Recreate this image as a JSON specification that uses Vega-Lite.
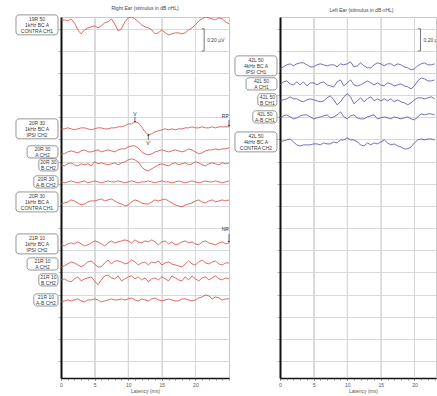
{
  "$schema": "https://vega.github.io/schema/vega-lite/v6.json",
  "background": "white",
  "padding": {"left": 15, "top": 5, "right": 0, "bottom": 0},
  "autosize": {"type": "pad"},
  "bounds": "flush",
  "spacing": 51,
  "config": {
    "font": "Liberation Sans",
    "view": {"stroke": "#c8c8c8", "strokeWidth": 1},
    "title": {"font": "Liberation Sans", "fontSize": 5, "fontWeight": "normal", "color": "#444", "offset": 4},
    "axis": {"labelFont": "Liberation Sans", "titleFont": "Liberation Sans", "labelFontSize": 5, "titleFontSize": 5, "titleFontWeight": "normal", "labelColor": "#555", "titleColor": "#555", "gridColor": "#d9d9d9", "gridWidth": 1, "tickCount": 1000},
    "axisX": {"domainColor": "#111", "domainWidth": 1.5, "tickColor": "#666", "tickSize": 2, "tickWidth": 0.7, "labelPadding": 2, "titlePadding": 1, "labelOverlap": false, "labelFlush": false, "format": "d"},
    "axisY": {"domainColor": "#111", "domainWidth": 2, "tickColor": "#999", "tickSize": 3, "tickWidth": 0.7, "labels": false, "grid": true}
  },
  "datasets": {
    "majorTicks": [{"t": 5}, {"t": 10}, {"t": 15}, {"t": 20}],
    "labels": [
      {"s": "R1", "ear": "R", "base": 3.035, "sub": "", "label": "19R 50\n1kHz BC A\nCONTRA CH1"},
      {"s": "R2", "ear": "R", "base": 2.096, "sub": "", "label": "20R 30\n1kHz BC A\nIPSI CH2"},
      {"s": "R3", "ear": "R", "base": 1.888, "sub": "A", "label": "20R 30\nA CH2"},
      {"s": "R4", "ear": "R", "base": 1.771, "sub": "B", "label": "20R 30\nB CH2"},
      {"s": "R5", "ear": "R", "base": 1.617, "sub": "A-B", "label": "20R 30\nA-B CH2"},
      {"s": "R6", "ear": "R", "base": 1.436, "sub": "", "label": "20R 30\n1kHz BC A\nCONTRA CH1"},
      {"s": "R7", "ear": "R", "base": 1.057, "sub": "", "label": "21R 10\n1kHz BC A\nIPSI CH2"},
      {"s": "R8", "ear": "R", "base": 0.876, "sub": "A", "label": "21R 10\nA CH2"},
      {"s": "R9", "ear": "R", "base": 0.732, "sub": "B", "label": "21R 10\nB CH2"},
      {"s": "R10", "ear": "R", "base": 0.551, "sub": "A-B", "label": "21R 10\nA-B CH2"},
      {"s": "L1", "ear": "L", "base": 2.665, "sub": "", "label": "42L 50\n4kHz BC A\nIPSI CH1"},
      {"s": "L2", "ear": "L", "base": 2.502, "sub": "A", "label": "42L 50\nA CH1"},
      {"s": "L3", "ear": "L", "base": 2.358, "sub": "B", "label": "42L 50\nB CH1"},
      {"s": "L4", "ear": "L", "base": 2.204, "sub": "A-B", "label": "42L 50\nA-B CH1"},
      {"s": "L5", "ear": "L", "base": 1.978, "sub": "", "label": "42L 50\n4kHz BC A\nCONTRA CH2"}
    ],
    "scalebars": [
      {"ear": "R", "t": 21.3, "lo": 2.8, "hi": 3.0, "label": "0.20 µV"},
      {"ear": "L", "t": 20.9, "lo": 2.8, "hi": 3.0, "label": "0.20 µV"}
    ],
    "flags": [
      {"ear": "R", "name": "V", "t": 11, "tip": 2.159, "tail": 2.204},
      {"ear": "R", "name": "V'", "t": 13, "tip": 2.042, "tail": 1.997},
      {"ear": "R", "name": "RP", "t": 25, "tip": 2.123, "tail": 2.177},
      {"ear": "R", "name": "NR", "t": 25, "tip": 1.075, "tail": 1.147}
    ],
    "traces": [
      {"s":"R1","t":0,"v":0.045},{"s":"R1","t":0.5,"v":0.045},{"s":"R1","t":1,"v":0.036},{"s":"R1","t":1.5,"v":0.054},{"s":"R1","t":2,"v":0.018},{"s":"R1","t":2.5,"v":-0.045},{"s":"R1","t":3,"v":-0.081},{"s":"R1","t":3.5,"v":-0.045},{"s":"R1","t":4,"v":-0.027},{"s":"R1","t":4.5,"v":-0.018},{"s":"R1","t":5,"v":-0.009},{"s":"R1","t":5.5,"v":-0.027},{"s":"R1","t":6,"v":-0.009},{"s":"R1","t":6.5,"v":0.018},{"s":"R1","t":7,"v":0.027},{"s":"R1","t":7.5,"v":0.054},{"s":"R1","t":8,"v":0.009},{"s":"R1","t":8.5,"v":-0.054},{"s":"R1","t":9,"v":-0.036},{"s":"R1","t":9.5,"v":0.027},{"s":"R1","t":10,"v":0.063},{"s":"R1","t":10.5,"v":0.072},{"s":"R1","t":11,"v":0.054},{"s":"R1","t":11.5,"v":0.027},{"s":"R1","t":12,"v":0},{"s":"R1","t":12.5,"v":-0.018},{"s":"R1","t":13,"v":-0.027},{"s":"R1","t":13.5,"v":-0.045},{"s":"R1","t":14,"v":-0.081},{"s":"R1","t":14.5,"v":-0.072},{"s":"R1","t":15,"v":-0.045},{"s":"R1","t":15.5,"v":-0.072},{"s":"R1","t":16,"v":-0.09},{"s":"R1","t":16.5,"v":-0.081},{"s":"R1","t":17,"v":-0.072},{"s":"R1","t":17.5,"v":-0.072},{"s":"R1","t":18,"v":-0.081},{"s":"R1","t":18.5,"v":-0.072},{"s":"R1","t":19,"v":-0.045},{"s":"R1","t":19.5,"v":-0.027},{"s":"R1","t":20,"v":0},{"s":"R1","t":20.5,"v":0.036},{"s":"R1","t":21,"v":0.054},{"s":"R1","t":21.5,"v":0.072},{"s":"R1","t":22,"v":0.063},{"s":"R1","t":22.5,"v":0.054},{"s":"R1","t":23,"v":0.045},{"s":"R1","t":23.5,"v":0.063},{"s":"R1","t":24,"v":0.054},{"s":"R1","t":24.5,"v":0.027},{"s":"R1","t":25,"v":0.009},
      {"s":"R2","t":0,"v":0},{"s":"R2","t":0.5,"v":0},{"s":"R2","t":1,"v":0.009},{"s":"R2","t":1.5,"v":0},{"s":"R2","t":2,"v":-0.009},{"s":"R2","t":2.5,"v":0},{"s":"R2","t":3,"v":0.009},{"s":"R2","t":3.5,"v":0.009},{"s":"R2","t":4,"v":0},{"s":"R2","t":4.5,"v":-0.009},{"s":"R2","t":5,"v":0},{"s":"R2","t":5.5,"v":0.009},{"s":"R2","t":6,"v":0.009},{"s":"R2","t":6.5,"v":0},{"s":"R2","t":7,"v":0},{"s":"R2","t":7.5,"v":0.009},{"s":"R2","t":8,"v":0.009},{"s":"R2","t":8.5,"v":0.018},{"s":"R2","t":9,"v":0.018},{"s":"R2","t":9.5,"v":0.027},{"s":"R2","t":10,"v":0.045},{"s":"R2","t":10.5,"v":0.045},{"s":"R2","t":11,"v":0.063},{"s":"R2","t":11.5,"v":0.054},{"s":"R2","t":12,"v":0.018},{"s":"R2","t":12.5,"v":-0.027},{"s":"R2","t":13,"v":-0.054},{"s":"R2","t":13.5,"v":-0.045},{"s":"R2","t":14,"v":-0.027},{"s":"R2","t":14.5,"v":-0.018},{"s":"R2","t":15,"v":-0.009},{"s":"R2","t":15.5,"v":0},{"s":"R2","t":16,"v":-0.009},{"s":"R2","t":16.5,"v":0},{"s":"R2","t":17,"v":-0.009},{"s":"R2","t":17.5,"v":0},{"s":"R2","t":18,"v":0},{"s":"R2","t":18.5,"v":0.009},{"s":"R2","t":19,"v":0.009},{"s":"R2","t":19.5,"v":0.018},{"s":"R2","t":20,"v":0.009},{"s":"R2","t":20.5,"v":0.009},{"s":"R2","t":21,"v":0.018},{"s":"R2","t":21.5,"v":0.009},{"s":"R2","t":22,"v":0.009},{"s":"R2","t":22.5,"v":0.018},{"s":"R2","t":23,"v":0.009},{"s":"R2","t":23.5,"v":0.018},{"s":"R2","t":24,"v":0.018},{"s":"R2","t":24.5,"v":0.018},{"s":"R2","t":25,"v":0.018},
      {"s":"R3","t":0,"v":-0.018},{"s":"R3","t":0.5,"v":-0.018},{"s":"R3","t":1,"v":0},{"s":"R3","t":1.5,"v":0.009},{"s":"R3","t":2,"v":0},{"s":"R3","t":2.5,"v":-0.009},{"s":"R3","t":3,"v":0.009},{"s":"R3","t":3.5,"v":0.018},{"s":"R3","t":4,"v":0},{"s":"R3","t":4.5,"v":0},{"s":"R3","t":5,"v":0.009},{"s":"R3","t":5.5,"v":0.018},{"s":"R3","t":6,"v":0},{"s":"R3","t":6.5,"v":0.009},{"s":"R3","t":7,"v":0.018},{"s":"R3","t":7.5,"v":0.009},{"s":"R3","t":8,"v":0},{"s":"R3","t":8.5,"v":0.018},{"s":"R3","t":9,"v":0.027},{"s":"R3","t":9.5,"v":0.027},{"s":"R3","t":10,"v":0.045},{"s":"R3","t":10.5,"v":0.054},{"s":"R3","t":11,"v":0.054},{"s":"R3","t":11.5,"v":0.036},{"s":"R3","t":12,"v":0},{"s":"R3","t":12.5,"v":-0.018},{"s":"R3","t":13,"v":-0.027},{"s":"R3","t":13.5,"v":-0.018},{"s":"R3","t":14,"v":0},{"s":"R3","t":14.5,"v":0.009},{"s":"R3","t":15,"v":0.018},{"s":"R3","t":15.5,"v":0.009},{"s":"R3","t":16,"v":0},{"s":"R3","t":16.5,"v":0.009},{"s":"R3","t":17,"v":0.018},{"s":"R3","t":17.5,"v":0.009},{"s":"R3","t":18,"v":0},{"s":"R3","t":18.5,"v":0.009},{"s":"R3","t":19,"v":0.027},{"s":"R3","t":19.5,"v":0.018},{"s":"R3","t":20,"v":0},{"s":"R3","t":20.5,"v":-0.018},{"s":"R3","t":21,"v":-0.009},{"s":"R3","t":21.5,"v":0.009},{"s":"R3","t":22,"v":0.018},{"s":"R3","t":22.5,"v":0.018},{"s":"R3","t":23,"v":0.027},{"s":"R3","t":23.5,"v":0.018},{"s":"R3","t":24,"v":0.027},{"s":"R3","t":24.5,"v":0.027},{"s":"R3","t":25,"v":0.036},
      {"s":"R4","t":0,"v":0},{"s":"R4","t":0.5,"v":-0.009},{"s":"R4","t":1,"v":0.009},{"s":"R4","t":1.5,"v":0.018},{"s":"R4","t":2,"v":0},{"s":"R4","t":2.5,"v":-0.009},{"s":"R4","t":3,"v":0.009},{"s":"R4","t":3.5,"v":0},{"s":"R4","t":4,"v":0.009},{"s":"R4","t":4.5,"v":-0.009},{"s":"R4","t":5,"v":0.027},{"s":"R4","t":5.5,"v":0.009},{"s":"R4","t":6,"v":0.018},{"s":"R4","t":6.5,"v":0.009},{"s":"R4","t":7,"v":0},{"s":"R4","t":7.5,"v":0.009},{"s":"R4","t":8,"v":0.018},{"s":"R4","t":8.5,"v":0},{"s":"R4","t":9,"v":0.018},{"s":"R4","t":9.5,"v":0.027},{"s":"R4","t":10,"v":0.045},{"s":"R4","t":10.5,"v":0.054},{"s":"R4","t":11,"v":0.045},{"s":"R4","t":11.5,"v":0.027},{"s":"R4","t":12,"v":-0.018},{"s":"R4","t":12.5,"v":-0.045},{"s":"R4","t":13,"v":-0.054},{"s":"R4","t":13.5,"v":-0.036},{"s":"R4","t":14,"v":-0.018},{"s":"R4","t":14.5,"v":0},{"s":"R4","t":15,"v":0.009},{"s":"R4","t":15.5,"v":0},{"s":"R4","t":16,"v":-0.009},{"s":"R4","t":16.5,"v":0.009},{"s":"R4","t":17,"v":0.018},{"s":"R4","t":17.5,"v":0},{"s":"R4","t":18,"v":0.009},{"s":"R4","t":18.5,"v":0.018},{"s":"R4","t":19,"v":0},{"s":"R4","t":19.5,"v":0.009},{"s":"R4","t":20,"v":0.027},{"s":"R4","t":20.5,"v":0.018},{"s":"R4","t":21,"v":0},{"s":"R4","t":21.5,"v":-0.009},{"s":"R4","t":22,"v":0.009},{"s":"R4","t":22.5,"v":0.018},{"s":"R4","t":23,"v":0.009},{"s":"R4","t":23.5,"v":0},{"s":"R4","t":24,"v":0.018},{"s":"R4","t":24.5,"v":0.009},{"s":"R4","t":25,"v":0.018},
      {"s":"R5","t":0,"v":0},{"s":"R5","t":0.5,"v":-0.009},{"s":"R5","t":1,"v":0},{"s":"R5","t":1.5,"v":0.009},{"s":"R5","t":2,"v":0},{"s":"R5","t":2.5,"v":-0.009},{"s":"R5","t":3,"v":0},{"s":"R5","t":3.5,"v":0.009},{"s":"R5","t":4,"v":-0.009},{"s":"R5","t":4.5,"v":0},{"s":"R5","t":5,"v":0.009},{"s":"R5","t":5.5,"v":0},{"s":"R5","t":6,"v":-0.009},{"s":"R5","t":6.5,"v":0},{"s":"R5","t":7,"v":0.009},{"s":"R5","t":7.5,"v":0},{"s":"R5","t":8,"v":0},{"s":"R5","t":8.5,"v":0.009},{"s":"R5","t":9,"v":0},{"s":"R5","t":9.5,"v":-0.009},{"s":"R5","t":10,"v":0},{"s":"R5","t":10.5,"v":0.009},{"s":"R5","t":11,"v":0},{"s":"R5","t":11.5,"v":-0.009},{"s":"R5","t":12,"v":0},{"s":"R5","t":12.5,"v":0},{"s":"R5","t":13,"v":0.009},{"s":"R5","t":13.5,"v":0},{"s":"R5","t":14,"v":-0.009},{"s":"R5","t":14.5,"v":0},{"s":"R5","t":15,"v":0.009},{"s":"R5","t":15.5,"v":0},{"s":"R5","t":16,"v":0},{"s":"R5","t":16.5,"v":-0.009},{"s":"R5","t":17,"v":0},{"s":"R5","t":17.5,"v":0.009},{"s":"R5","t":18,"v":0},{"s":"R5","t":18.5,"v":-0.009},{"s":"R5","t":19,"v":0},{"s":"R5","t":19.5,"v":0.009},{"s":"R5","t":20,"v":0},{"s":"R5","t":20.5,"v":-0.009},{"s":"R5","t":21,"v":0},{"s":"R5","t":21.5,"v":0.009},{"s":"R5","t":22,"v":0},{"s":"R5","t":22.5,"v":0},{"s":"R5","t":23,"v":0.009},{"s":"R5","t":23.5,"v":0},{"s":"R5","t":24,"v":-0.009},{"s":"R5","t":24.5,"v":0},{"s":"R5","t":25,"v":0.009},
      {"s":"R6","t":0,"v":-0.018},{"s":"R6","t":0.5,"v":-0.009},{"s":"R6","t":1,"v":0},{"s":"R6","t":1.5,"v":0.018},{"s":"R6","t":2,"v":0.009},{"s":"R6","t":2.5,"v":-0.009},{"s":"R6","t":3,"v":-0.027},{"s":"R6","t":3.5,"v":-0.018},{"s":"R6","t":4,"v":0},{"s":"R6","t":4.5,"v":0.009},{"s":"R6","t":5,"v":0.009},{"s":"R6","t":5.5,"v":0.018},{"s":"R6","t":6,"v":0.027},{"s":"R6","t":6.5,"v":0.009},{"s":"R6","t":7,"v":0.018},{"s":"R6","t":7.5,"v":0.027},{"s":"R6","t":8,"v":0.009},{"s":"R6","t":8.5,"v":-0.009},{"s":"R6","t":9,"v":-0.018},{"s":"R6","t":9.5,"v":-0.036},{"s":"R6","t":10,"v":-0.027},{"s":"R6","t":10.5,"v":0},{"s":"R6","t":11,"v":0.018},{"s":"R6","t":11.5,"v":0.009},{"s":"R6","t":12,"v":-0.009},{"s":"R6","t":12.5,"v":-0.018},{"s":"R6","t":13,"v":-0.018},{"s":"R6","t":13.5,"v":0},{"s":"R6","t":14,"v":0.018},{"s":"R6","t":14.5,"v":0.009},{"s":"R6","t":15,"v":0.018},{"s":"R6","t":15.5,"v":0.027},{"s":"R6","t":16,"v":0.009},{"s":"R6","t":16.5,"v":-0.009},{"s":"R6","t":17,"v":-0.027},{"s":"R6","t":17.5,"v":-0.036},{"s":"R6","t":18,"v":-0.045},{"s":"R6","t":18.5,"v":-0.027},{"s":"R6","t":19,"v":-0.018},{"s":"R6","t":19.5,"v":-0.009},{"s":"R6","t":20,"v":0.009},{"s":"R6","t":20.5,"v":0.018},{"s":"R6","t":21,"v":0},{"s":"R6","t":21.5,"v":-0.009},{"s":"R6","t":22,"v":0.009},{"s":"R6","t":22.5,"v":0.018},{"s":"R6","t":23,"v":0},{"s":"R6","t":23.5,"v":0.009},{"s":"R6","t":24,"v":0.018},{"s":"R6","t":24.5,"v":0.009},{"s":"R6","t":25,"v":0.018},
      {"s":"R7","t":0,"v":-0.009},{"s":"R7","t":0.5,"v":-0.018},{"s":"R7","t":1,"v":0},{"s":"R7","t":1.5,"v":0.009},{"s":"R7","t":2,"v":0},{"s":"R7","t":2.5,"v":0.018},{"s":"R7","t":3,"v":0},{"s":"R7","t":3.5,"v":-0.018},{"s":"R7","t":4,"v":-0.009},{"s":"R7","t":4.5,"v":0.009},{"s":"R7","t":5,"v":0.027},{"s":"R7","t":5.5,"v":0.018},{"s":"R7","t":6,"v":0},{"s":"R7","t":6.5,"v":-0.018},{"s":"R7","t":7,"v":0.009},{"s":"R7","t":7.5,"v":0.027},{"s":"R7","t":8,"v":0.009},{"s":"R7","t":8.5,"v":0.018},{"s":"R7","t":9,"v":0.027},{"s":"R7","t":9.5,"v":0.036},{"s":"R7","t":10,"v":0.027},{"s":"R7","t":10.5,"v":0.009},{"s":"R7","t":11,"v":0.036},{"s":"R7","t":11.5,"v":0.018},{"s":"R7","t":12,"v":0.009},{"s":"R7","t":12.5,"v":0.027},{"s":"R7","t":13,"v":0.018},{"s":"R7","t":13.5,"v":0.036},{"s":"R7","t":14,"v":0.018},{"s":"R7","t":14.5,"v":-0.009},{"s":"R7","t":15,"v":0.018},{"s":"R7","t":15.5,"v":0.027},{"s":"R7","t":16,"v":0},{"s":"R7","t":16.5,"v":0.018},{"s":"R7","t":17,"v":-0.009},{"s":"R7","t":17.5,"v":0},{"s":"R7","t":18,"v":0.018},{"s":"R7","t":18.5,"v":0.027},{"s":"R7","t":19,"v":0.009},{"s":"R7","t":19.5,"v":0.018},{"s":"R7","t":20,"v":0},{"s":"R7","t":20.5,"v":-0.009},{"s":"R7","t":21,"v":0.018},{"s":"R7","t":21.5,"v":0.027},{"s":"R7","t":22,"v":0.009},{"s":"R7","t":22.5,"v":0},{"s":"R7","t":23,"v":-0.009},{"s":"R7","t":23.5,"v":0.009},{"s":"R7","t":24,"v":0.018},{"s":"R7","t":24.5,"v":0},{"s":"R7","t":25,"v":0.009},
      {"s":"R8","t":0,"v":-0.027},{"s":"R8","t":0.5,"v":-0.018},{"s":"R8","t":1,"v":0},{"s":"R8","t":1.5,"v":0.018},{"s":"R8","t":2,"v":0.009},{"s":"R8","t":2.5,"v":-0.009},{"s":"R8","t":3,"v":-0.027},{"s":"R8","t":3.5,"v":-0.009},{"s":"R8","t":4,"v":0.018},{"s":"R8","t":4.5,"v":0.027},{"s":"R8","t":5,"v":0},{"s":"R8","t":5.5,"v":-0.027},{"s":"R8","t":6,"v":-0.027},{"s":"R8","t":6.5,"v":0.009},{"s":"R8","t":7,"v":0.036},{"s":"R8","t":7.5,"v":0},{"s":"R8","t":8,"v":0.027},{"s":"R8","t":8.5,"v":0.027},{"s":"R8","t":9,"v":0.018},{"s":"R8","t":9.5,"v":0},{"s":"R8","t":10,"v":0.009},{"s":"R8","t":10.5,"v":0.036},{"s":"R8","t":11,"v":0.018},{"s":"R8","t":11.5,"v":-0.009},{"s":"R8","t":12,"v":0.009},{"s":"R8","t":12.5,"v":0.018},{"s":"R8","t":13,"v":-0.009},{"s":"R8","t":13.5,"v":0.018},{"s":"R8","t":14,"v":0.009},{"s":"R8","t":14.5,"v":0.027},{"s":"R8","t":15,"v":-0.009},{"s":"R8","t":15.5,"v":0.009},{"s":"R8","t":16,"v":0.018},{"s":"R8","t":16.5,"v":0},{"s":"R8","t":17,"v":-0.009},{"s":"R8","t":17.5,"v":-0.018},{"s":"R8","t":18,"v":-0.027},{"s":"R8","t":18.5,"v":0},{"s":"R8","t":19,"v":0.027},{"s":"R8","t":19.5,"v":0},{"s":"R8","t":20,"v":-0.009},{"s":"R8","t":20.5,"v":0.018},{"s":"R8","t":21,"v":0.036},{"s":"R8","t":21.5,"v":0.009},{"s":"R8","t":22,"v":0},{"s":"R8","t":22.5,"v":0.018},{"s":"R8","t":23,"v":0.027},{"s":"R8","t":23.5,"v":0},{"s":"R8","t":24,"v":-0.009},{"s":"R8","t":24.5,"v":0.009},{"s":"R8","t":25,"v":0.009},
      {"s":"R9","t":0,"v":0},{"s":"R9","t":0.5,"v":0.009},{"s":"R9","t":1,"v":-0.009},{"s":"R9","t":1.5,"v":-0.018},{"s":"R9","t":2,"v":0.009},{"s":"R9","t":2.5,"v":0.027},{"s":"R9","t":3,"v":-0.009},{"s":"R9","t":3.5,"v":0.009},{"s":"R9","t":4,"v":0.018},{"s":"R9","t":4.5,"v":0.027},{"s":"R9","t":5,"v":-0.009},{"s":"R9","t":5.5,"v":-0.045},{"s":"R9","t":6,"v":0},{"s":"R9","t":6.5,"v":0.036},{"s":"R9","t":7,"v":0.045},{"s":"R9","t":7.5,"v":0.018},{"s":"R9","t":8,"v":0.009},{"s":"R9","t":8.5,"v":0.036},{"s":"R9","t":9,"v":-0.009},{"s":"R9","t":9.5,"v":0.009},{"s":"R9","t":10,"v":0.027},{"s":"R9","t":10.5,"v":0.036},{"s":"R9","t":11,"v":0.009},{"s":"R9","t":11.5,"v":0.027},{"s":"R9","t":12,"v":0},{"s":"R9","t":12.5,"v":0.018},{"s":"R9","t":13,"v":-0.018},{"s":"R9","t":13.5,"v":0.009},{"s":"R9","t":14,"v":0.018},{"s":"R9","t":14.5,"v":0},{"s":"R9","t":15,"v":0.027},{"s":"R9","t":15.5,"v":0.009},{"s":"R9","t":16,"v":-0.009},{"s":"R9","t":16.5,"v":0.036},{"s":"R9","t":17,"v":0.018},{"s":"R9","t":17.5,"v":0},{"s":"R9","t":18,"v":-0.009},{"s":"R9","t":18.5,"v":0.027},{"s":"R9","t":19,"v":0},{"s":"R9","t":19.5,"v":0.036},{"s":"R9","t":20,"v":0.009},{"s":"R9","t":20.5,"v":-0.009},{"s":"R9","t":21,"v":0.018},{"s":"R9","t":21.5,"v":0.027},{"s":"R9","t":22,"v":0},{"s":"R9","t":22.5,"v":0.018},{"s":"R9","t":23,"v":0.036},{"s":"R9","t":23.5,"v":0.009},{"s":"R9","t":24,"v":0},{"s":"R9","t":24.5,"v":0.018},{"s":"R9","t":25,"v":0.009},
      {"s":"R10","t":0,"v":-0.018},{"s":"R10","t":0.5,"v":-0.009},{"s":"R10","t":1,"v":0},{"s":"R10","t":1.5,"v":-0.009},{"s":"R10","t":2,"v":0},{"s":"R10","t":2.5,"v":0.009},{"s":"R10","t":3,"v":-0.009},{"s":"R10","t":3.5,"v":-0.018},{"s":"R10","t":4,"v":0},{"s":"R10","t":4.5,"v":0},{"s":"R10","t":5,"v":0.009},{"s":"R10","t":5.5,"v":0},{"s":"R10","t":6,"v":-0.018},{"s":"R10","t":6.5,"v":-0.009},{"s":"R10","t":7,"v":0},{"s":"R10","t":7.5,"v":0.009},{"s":"R10","t":8,"v":0},{"s":"R10","t":8.5,"v":0},{"s":"R10","t":9,"v":0.009},{"s":"R10","t":9.5,"v":0},{"s":"R10","t":10,"v":0.009},{"s":"R10","t":10.5,"v":0.018},{"s":"R10","t":11,"v":0},{"s":"R10","t":11.5,"v":-0.009},{"s":"R10","t":12,"v":0.009},{"s":"R10","t":12.5,"v":0},{"s":"R10","t":13,"v":-0.009},{"s":"R10","t":13.5,"v":0.009},{"s":"R10","t":14,"v":0.018},{"s":"R10","t":14.5,"v":0},{"s":"R10","t":15,"v":-0.009},{"s":"R10","t":15.5,"v":0},{"s":"R10","t":16,"v":0.009},{"s":"R10","t":16.5,"v":0},{"s":"R10","t":17,"v":-0.009},{"s":"R10","t":17.5,"v":-0.009},{"s":"R10","t":18,"v":0.009},{"s":"R10","t":18.5,"v":0.009},{"s":"R10","t":19,"v":0},{"s":"R10","t":19.5,"v":-0.009},{"s":"R10","t":20,"v":0},{"s":"R10","t":20.5,"v":0.018},{"s":"R10","t":21,"v":0.027},{"s":"R10","t":21.5,"v":0.045},{"s":"R10","t":22,"v":0.036},{"s":"R10","t":22.5,"v":0.009},{"s":"R10","t":23,"v":0.027},{"s":"R10","t":23.5,"v":0.018},{"s":"R10","t":24,"v":0},{"s":"R10","t":24.5,"v":0.009},{"s":"R10","t":25,"v":0.009},
      {"s":"L1","t":0,"v":-0.027},{"s":"L1","t":0.5,"v":-0.009},{"s":"L1","t":1,"v":0.009},{"s":"L1","t":1.5,"v":0.018},{"s":"L1","t":2,"v":0},{"s":"L1","t":2.5,"v":0.018},{"s":"L1","t":3,"v":0.027},{"s":"L1","t":3.5,"v":0.027},{"s":"L1","t":4,"v":0.009},{"s":"L1","t":4.5,"v":-0.009},{"s":"L1","t":5,"v":-0.009},{"s":"L1","t":5.5,"v":0.009},{"s":"L1","t":6,"v":0.018},{"s":"L1","t":6.5,"v":0.009},{"s":"L1","t":7,"v":0},{"s":"L1","t":7.5,"v":0.009},{"s":"L1","t":8,"v":0.009},{"s":"L1","t":8.5,"v":-0.009},{"s":"L1","t":9,"v":0.018},{"s":"L1","t":9.5,"v":0.009},{"s":"L1","t":10,"v":0.018},{"s":"L1","t":10.5,"v":0.036},{"s":"L1","t":11,"v":-0.009},{"s":"L1","t":11.5,"v":0},{"s":"L1","t":12,"v":0.027},{"s":"L1","t":12.5,"v":0},{"s":"L1","t":13,"v":-0.018},{"s":"L1","t":13.5,"v":-0.018},{"s":"L1","t":14,"v":0.009},{"s":"L1","t":14.5,"v":0.027},{"s":"L1","t":15,"v":0.018},{"s":"L1","t":15.5,"v":0},{"s":"L1","t":16,"v":0.018},{"s":"L1","t":16.5,"v":0.018},{"s":"L1","t":17,"v":0},{"s":"L1","t":17.5,"v":0.018},{"s":"L1","t":18,"v":0.009},{"s":"L1","t":18.5,"v":-0.009},{"s":"L1","t":19,"v":-0.018},{"s":"L1","t":19.5,"v":-0.036},{"s":"L1","t":20,"v":-0.027},{"s":"L1","t":20.5,"v":0},{"s":"L1","t":21,"v":0.018},{"s":"L1","t":21.5,"v":0.027},{"s":"L1","t":22,"v":0.009},{"s":"L1","t":22.5,"v":0.009},{"s":"L1","t":23,"v":0.018},
      {"s":"L2","t":0,"v":-0.009},{"s":"L2","t":0.5,"v":0.018},{"s":"L2","t":1,"v":0.027},{"s":"L2","t":1.5,"v":0},{"s":"L2","t":2,"v":-0.009},{"s":"L2","t":2.5,"v":0.018},{"s":"L2","t":3,"v":-0.009},{"s":"L2","t":3.5,"v":0.018},{"s":"L2","t":4,"v":-0.018},{"s":"L2","t":4.5,"v":0.009},{"s":"L2","t":5,"v":0.009},{"s":"L2","t":5.5,"v":-0.009},{"s":"L2","t":6,"v":0.009},{"s":"L2","t":6.5,"v":0.018},{"s":"L2","t":7,"v":-0.009},{"s":"L2","t":7.5,"v":-0.018},{"s":"L2","t":8,"v":-0.027},{"s":"L2","t":8.5,"v":0.018},{"s":"L2","t":9,"v":0.036},{"s":"L2","t":9.5,"v":-0.018},{"s":"L2","t":10,"v":0.009},{"s":"L2","t":10.5,"v":0.036},{"s":"L2","t":11,"v":-0.009},{"s":"L2","t":11.5,"v":-0.018},{"s":"L2","t":12,"v":-0.009},{"s":"L2","t":12.5,"v":0.009},{"s":"L2","t":13,"v":0.027},{"s":"L2","t":13.5,"v":0.009},{"s":"L2","t":14,"v":-0.009},{"s":"L2","t":14.5,"v":0.009},{"s":"L2","t":15,"v":-0.009},{"s":"L2","t":15.5,"v":-0.018},{"s":"L2","t":16,"v":0.009},{"s":"L2","t":16.5,"v":0},{"s":"L2","t":17,"v":-0.018},{"s":"L2","t":17.5,"v":-0.009},{"s":"L2","t":18,"v":0},{"s":"L2","t":18.5,"v":-0.018},{"s":"L2","t":19,"v":-0.027},{"s":"L2","t":19.5,"v":-0.045},{"s":"L2","t":20,"v":-0.018},{"s":"L2","t":20.5,"v":0.027},{"s":"L2","t":21,"v":0.054},{"s":"L2","t":21.5,"v":0.045},{"s":"L2","t":22,"v":0.027},{"s":"L2","t":22.5,"v":0.027},{"s":"L2","t":23,"v":0.036},
      {"s":"L3","t":0,"v":-0.009},{"s":"L3","t":0.5,"v":0},{"s":"L3","t":1,"v":0.009},{"s":"L3","t":1.5,"v":0.027},{"s":"L3","t":2,"v":0.009},{"s":"L3","t":2.5,"v":0.009},{"s":"L3","t":3,"v":-0.009},{"s":"L3","t":3.5,"v":-0.018},{"s":"L3","t":4,"v":0},{"s":"L3","t":4.5,"v":0.009},{"s":"L3","t":5,"v":0},{"s":"L3","t":5.5,"v":-0.009},{"s":"L3","t":6,"v":-0.018},{"s":"L3","t":6.5,"v":-0.009},{"s":"L3","t":7,"v":0.018},{"s":"L3","t":7.5,"v":0.036},{"s":"L3","t":8,"v":0},{"s":"L3","t":8.5,"v":-0.045},{"s":"L3","t":9,"v":-0.018},{"s":"L3","t":9.5,"v":0.027},{"s":"L3","t":10,"v":0.054},{"s":"L3","t":10.5,"v":0.027},{"s":"L3","t":11,"v":-0.036},{"s":"L3","t":11.5,"v":-0.009},{"s":"L3","t":12,"v":0.018},{"s":"L3","t":12.5,"v":-0.018},{"s":"L3","t":13,"v":0.009},{"s":"L3","t":13.5,"v":0.027},{"s":"L3","t":14,"v":-0.009},{"s":"L3","t":14.5,"v":0.009},{"s":"L3","t":15,"v":-0.009},{"s":"L3","t":15.5,"v":0.009},{"s":"L3","t":16,"v":-0.009},{"s":"L3","t":16.5,"v":0.009},{"s":"L3","t":17,"v":-0.018},{"s":"L3","t":17.5,"v":0},{"s":"L3","t":18,"v":-0.018},{"s":"L3","t":18.5,"v":-0.027},{"s":"L3","t":19,"v":-0.045},{"s":"L3","t":19.5,"v":-0.027},{"s":"L3","t":20,"v":0},{"s":"L3","t":20.5,"v":0.018},{"s":"L3","t":21,"v":0.018},{"s":"L3","t":21.5,"v":0.009},{"s":"L3","t":22,"v":0.018},{"s":"L3","t":22.5,"v":0.027},{"s":"L3","t":23,"v":0.009},
      {"s":"L4","t":0,"v":-0.009},{"s":"L4","t":0.5,"v":0.009},{"s":"L4","t":1,"v":0.018},{"s":"L4","t":1.5,"v":0},{"s":"L4","t":2,"v":-0.018},{"s":"L4","t":2.5,"v":-0.009},{"s":"L4","t":3,"v":0.009},{"s":"L4","t":3.5,"v":0.018},{"s":"L4","t":4,"v":0.018},{"s":"L4","t":4.5,"v":0},{"s":"L4","t":5,"v":-0.018},{"s":"L4","t":5.5,"v":-0.009},{"s":"L4","t":6,"v":0},{"s":"L4","t":6.5,"v":0.009},{"s":"L4","t":7,"v":0.018},{"s":"L4","t":7.5,"v":-0.009},{"s":"L4","t":8,"v":0},{"s":"L4","t":8.5,"v":0.018},{"s":"L4","t":9,"v":0.045},{"s":"L4","t":9.5,"v":0},{"s":"L4","t":10,"v":-0.018},{"s":"L4","t":10.5,"v":0.009},{"s":"L4","t":11,"v":0.018},{"s":"L4","t":11.5,"v":-0.009},{"s":"L4","t":12,"v":-0.018},{"s":"L4","t":12.5,"v":-0.018},{"s":"L4","t":13,"v":0},{"s":"L4","t":13.5,"v":0.009},{"s":"L4","t":14,"v":0.018},{"s":"L4","t":14.5,"v":-0.018},{"s":"L4","t":15,"v":-0.009},{"s":"L4","t":15.5,"v":0},{"s":"L4","t":16,"v":-0.009},{"s":"L4","t":16.5,"v":-0.018},{"s":"L4","t":17,"v":0},{"s":"L4","t":17.5,"v":-0.009},{"s":"L4","t":18,"v":-0.018},{"s":"L4","t":18.5,"v":-0.009},{"s":"L4","t":19,"v":0},{"s":"L4","t":19.5,"v":-0.018},{"s":"L4","t":20,"v":-0.027},{"s":"L4","t":20.5,"v":0},{"s":"L4","t":21,"v":0.027},{"s":"L4","t":21.5,"v":0.018},{"s":"L4","t":22,"v":0.027},{"s":"L4","t":22.5,"v":0.027},{"s":"L4","t":23,"v":0.018},
      {"s":"L5","t":0,"v":0},{"s":"L5","t":0.5,"v":0.009},{"s":"L5","t":1,"v":0.018},{"s":"L5","t":1.5,"v":0.027},{"s":"L5","t":2,"v":0},{"s":"L5","t":2.5,"v":-0.027},{"s":"L5","t":3,"v":-0.036},{"s":"L5","t":3.5,"v":-0.027},{"s":"L5","t":4,"v":-0.027},{"s":"L5","t":4.5,"v":-0.027},{"s":"L5","t":5,"v":-0.018},{"s":"L5","t":5.5,"v":-0.018},{"s":"L5","t":6,"v":-0.027},{"s":"L5","t":6.5,"v":-0.009},{"s":"L5","t":7,"v":-0.018},{"s":"L5","t":7.5,"v":-0.018},{"s":"L5","t":8,"v":0},{"s":"L5","t":8.5,"v":-0.009},{"s":"L5","t":9,"v":0.018},{"s":"L5","t":9.5,"v":0.018},{"s":"L5","t":10,"v":0.036},{"s":"L5","t":10.5,"v":0.018},{"s":"L5","t":11,"v":0.018},{"s":"L5","t":11.5,"v":0},{"s":"L5","t":12,"v":-0.027},{"s":"L5","t":12.5,"v":-0.036},{"s":"L5","t":13,"v":-0.009},{"s":"L5","t":13.5,"v":-0.027},{"s":"L5","t":14,"v":-0.009},{"s":"L5","t":14.5,"v":-0.018},{"s":"L5","t":15,"v":0},{"s":"L5","t":15.5,"v":0.018},{"s":"L5","t":16,"v":-0.009},{"s":"L5","t":16.5,"v":-0.027},{"s":"L5","t":17,"v":-0.018},{"s":"L5","t":17.5,"v":-0.036},{"s":"L5","t":18,"v":-0.045},{"s":"L5","t":18.5,"v":-0.063},{"s":"L5","t":19,"v":-0.063},{"s":"L5","t":19.5,"v":-0.045},{"s":"L5","t":20,"v":-0.009},{"s":"L5","t":20.5,"v":0.018},{"s":"L5","t":21,"v":0.027},{"s":"L5","t":21.5,"v":0.018},{"s":"L5","t":22,"v":0.027},{"s":"L5","t":22.5,"v":0.027},{"s":"L5","t":23,"v":0.018}
    ]
  },
  "hconcat": [
    {
      "width": 168,
      "height": 361,
      "title": {"text": "Right Ear (stimulus in dB nHL)"},
      "resolve": {"axis": {"x": "independent"}},
      "layer": [
        {
          "data": {"name": "majorTicks"},
          "mark": {"type": "rule", "color": "#d9d9d9", "strokeWidth": 1},
          "encoding": {
            "x": {"field": "t", "type": "quantitative", "axis": null, "scale": {"domain": [0, 25], "nice": false, "zero": false}}
          }
        },
        {
          "data": {"name": "traces"},
          "transform": [
            {"lookup": "s", "from": {"data": {"name": "labels"}, "key": "s", "fields": ["base", "ear"]}},
            {"filter": "datum.ear === 'R'"},
            {"calculate": "datum.base + datum.v", "as": "uv"}
          ],
          "mark": {"type": "line", "color": "#d4463e", "strokeWidth": 0.8, "clip": true},
          "encoding": {
            "x": {"field": "t", "type": "quantitative", "title": "Latency (ms)",
              "scale": {"domain": [0, 25], "nice": false, "zero": false},
              "axis": {"orient": "bottom", "values": [0, 5, 10, 15, 20], "grid": true, "title": "Latency (ms)"}},
            "y": {"field": "uv", "type": "quantitative", "title": null,
              "scale": {"domain": [-0.154, 3.106], "nice": false, "zero": false},
              "axis": {"values": [0,0.2,0.4,0.6,0.8,1,1.2,1.4,1.6,1.8,2,2.2,2.4,2.6,2.8,3], "grid": true}},
            "detail": {"field": "s", "type": "nominal"}
          }
        },
        {
          "data": {"name": "labels"},
          "transform": [
            {"filter": "datum.ear === 'R'"},
            {"calculate": "datum.sub === '' ? -6.7 : datum.sub === 'A' ? -5.05 : datum.sub === 'B' ? -3.3 : -4.05", "as": "bx0"},
            {"calculate": "-0.45", "as": "bx1"},
            {"calculate": "(datum.bx0 + datum.bx1) / 2", "as": "bxc"},
            {"calculate": "datum.base - (datum.sub === '' ? 0.09 : 0.055)", "as": "by0"},
            {"calculate": "datum.base + (datum.sub === '' ? 0.09 : 0.055)", "as": "by1"},
            {"calculate": "datum.base + (datum.sub === '' ? 0.054 : 0.027)", "as": "ly"}
          ],
          "layer": [
            {
              "mark": {"type": "rect", "fill": "white", "stroke": "#6a6a6a", "strokeWidth": 0.7, "cornerRadius": 3},
              "encoding": {
                "x": {"field": "bx0", "type": "quantitative", "scale": {"domain": [0, 25], "nice": false, "zero": false},
                  "axis": {"orient": "bottom", "values": [0,1,2,3,4,5,6,7,8,9,10,11,12,13,14,15,16,17,18,19,20,21,22,23,24,25], "grid": false, "labels": false, "domain": false, "title": null}},
                "x2": {"field": "bx1"},
                "y": {"field": "by0", "type": "quantitative", "title": null, "scale": {"domain": [-0.154, 3.106], "nice": false, "zero": false}},
                "y2": {"field": "by1"}
              }
            },
            {
              "mark": {"type": "text", "fontSize": 5, "lineHeight": 6, "lineBreak": "\n", "color": "#3a3a3a", "align": "center", "baseline": "middle"},
              "encoding": {
                "x": {"field": "bxc", "type": "quantitative", "scale": {"domain": [0, 25], "nice": false, "zero": false},
                  "axis": {"orient": "bottom", "values": [0,1,2,3,4,5,6,7,8,9,10,11,12,13,14,15,16,17,18,19,20,21,22,23,24,25], "grid": false, "labels": false, "domain": false, "title": null}},
                "y": {"field": "ly", "type": "quantitative", "title": null, "scale": {"domain": [-0.154, 3.106], "nice": false, "zero": false}},
                "text": {"field": "label"}
              }
            }
          ]
        },
        {
          "data": {"name": "scalebars"},
          "transform": [
            {"filter": "datum.ear === 'R'"},
            {"calculate": "datum.t - 0.35", "as": "tk"},
            {"calculate": "datum.t + 0.45", "as": "tx"},
            {"calculate": "(datum.lo + datum.hi) / 2", "as": "ym"}
          ],
          "layer": [
            {
              "mark": {"type": "rule", "color": "#555", "strokeWidth": 0.8},
              "encoding": {
                "x": {"field": "t", "type": "quantitative", "axis": null, "scale": {"domain": [0, 25], "nice": false, "zero": false}},
                "y": {"field": "lo", "type": "quantitative", "title": null, "scale": {"domain": [-0.154, 3.106], "nice": false, "zero": false}},
                "y2": {"field": "hi"}
              }
            },
            {
              "mark": {"type": "rule", "color": "#555", "strokeWidth": 0.8},
              "encoding": {
                "x": {"field": "tk", "type": "quantitative", "axis": null, "scale": {"domain": [0, 25], "nice": false, "zero": false}},
                "x2": {"field": "t"},
                "y": {"field": "hi", "type": "quantitative", "title": null, "scale": {"domain": [-0.154, 3.106], "nice": false, "zero": false}}
              }
            },
            {
              "mark": {"type": "rule", "color": "#555", "strokeWidth": 0.8},
              "encoding": {
                "x": {"field": "tk", "type": "quantitative", "axis": null, "scale": {"domain": [0, 25], "nice": false, "zero": false}},
                "x2": {"field": "t"},
                "y": {"field": "lo", "type": "quantitative", "title": null, "scale": {"domain": [-0.154, 3.106], "nice": false, "zero": false}}
              }
            },
            {
              "mark": {"type": "text", "fontSize": 5, "color": "#444", "align": "left", "baseline": "middle", "clip": true},
              "encoding": {
                "x": {"field": "tx", "type": "quantitative", "axis": null, "scale": {"domain": [0, 25], "nice": false, "zero": false}},
                "y": {"field": "ym", "type": "quantitative", "title": null, "scale": {"domain": [-0.154, 3.106], "nice": false, "zero": false}},
                "text": {"field": "label"}
              }
            }
          ]
        },
        {
          "data": {"name": "flags"},
          "transform": [
            {"filter": "datum.ear === 'R'"},
            {"calculate": "datum.tail + (datum.tail - datum.tip) * 0.6", "as": "ty"},
            {"calculate": "(datum.name === 'RP' || datum.name === 'NR') ? datum.t - 0.55 : datum.t", "as": "tx"},
            {"calculate": "datum.tip < datum.tail ? 'triangle-down' : 'triangle-up'", "as": "dir"}
          ],
          "layer": [
            {
              "mark": {"type": "rule", "color": "#333", "strokeWidth": 0.7},
              "encoding": {
                "x": {"field": "t", "type": "quantitative", "axis": null, "scale": {"domain": [0, 25], "nice": false, "zero": false}},
                "y": {"field": "tip", "type": "quantitative", "title": null, "scale": {"domain": [-0.154, 3.106], "nice": false, "zero": false}},
                "y2": {"field": "tail"}
              }
            },
            {
              "mark": {"type": "point", "filled": true, "color": "#333", "size": 5, "opacity": 1},
              "encoding": {
                "x": {"field": "t", "type": "quantitative", "axis": null, "scale": {"domain": [0, 25], "nice": false, "zero": false}},
                "y": {"field": "tip", "type": "quantitative", "title": null, "scale": {"domain": [-0.154, 3.106], "nice": false, "zero": false}},
                "shape": {"field": "dir", "type": "nominal", "scale": null}
              }
            },
            {
              "mark": {"type": "text", "fontSize": 5, "color": "#333", "align": "center", "baseline": "middle"},
              "encoding": {
                "x": {"field": "tx", "type": "quantitative", "axis": null, "scale": {"domain": [0, 25], "nice": false, "zero": false}},
                "y": {"field": "ty", "type": "quantitative", "title": null, "scale": {"domain": [-0.154, 3.106], "nice": false, "zero": false}},
                "text": {"field": "name"}
              }
            }
          ]
        }
      ]
    },
    {
      "width": 156,
      "height": 361,
      "title": {"text": "Left Ear (stimulus in dB nHL)", "dx": 3.5},
      "resolve": {"axis": {"x": "independent"}},
      "layer": [
        {
          "data": {"name": "majorTicks"},
          "mark": {"type": "rule", "color": "#d9d9d9", "strokeWidth": 1},
          "encoding": {
            "x": {"field": "t", "type": "quantitative", "axis": null, "scale": {"domain": [0, 23.21], "nice": false, "zero": false}}
          }
        },
        {
          "data": {"name": "traces"},
          "transform": [
            {"lookup": "s", "from": {"data": {"name": "labels"}, "key": "s", "fields": ["base", "ear"]}},
            {"filter": "datum.ear === 'L'"},
            {"calculate": "datum.base + datum.v", "as": "uv"}
          ],
          "mark": {"type": "line", "color": "#4d4db5", "strokeWidth": 0.8, "clip": true},
          "encoding": {
            "x": {"field": "t", "type": "quantitative", "title": "Latency (ms)",
              "scale": {"domain": [0, 23.21], "nice": false, "zero": false},
              "axis": {"orient": "bottom", "values": [0, 5, 10, 15, 20], "grid": true, "title": "Latency (ms)", "titleX": 83}},
            "y": {"field": "uv", "type": "quantitative", "title": null,
              "scale": {"domain": [-0.154, 3.106], "nice": false, "zero": false},
              "axis": {"values": [0,0.2,0.4,0.6,0.8,1,1.2,1.4,1.6,1.8,2,2.2,2.4,2.6,2.8,3], "grid": true}},
            "detail": {"field": "s", "type": "nominal"}
          }
        },
        {
          "data": {"name": "labels"},
          "transform": [
            {"filter": "datum.ear === 'L'"},
            {"calculate": "datum.sub === '' ? -6.7 : datum.sub === 'A' ? -5.05 : datum.sub === 'B' ? -3.3 : -4.05", "as": "bx0"},
            {"calculate": "-0.45", "as": "bx1"},
            {"calculate": "(datum.bx0 + datum.bx1) / 2", "as": "bxc"},
            {"calculate": "datum.base - (datum.sub === '' ? 0.09 : 0.055)", "as": "by0"},
            {"calculate": "datum.base + (datum.sub === '' ? 0.09 : 0.055)", "as": "by1"},
            {"calculate": "datum.base + (datum.sub === '' ? 0.054 : 0.027)", "as": "ly"}
          ],
          "layer": [
            {
              "mark": {"type": "rect", "fill": "white", "stroke": "#6a6a6a", "strokeWidth": 0.7, "cornerRadius": 3},
              "encoding": {
                "x": {"field": "bx0", "type": "quantitative", "scale": {"domain": [0, 23.21], "nice": false, "zero": false},
                  "axis": {"orient": "bottom", "values": [0,1,2,3,4,5,6,7,8,9,10,11,12,13,14,15,16,17,18,19,20,21,22,23], "grid": false, "labels": false, "domain": false, "title": null}},
                "x2": {"field": "bx1"},
                "y": {"field": "by0", "type": "quantitative", "title": null, "scale": {"domain": [-0.154, 3.106], "nice": false, "zero": false}},
                "y2": {"field": "by1"}
              }
            },
            {
              "mark": {"type": "text", "fontSize": 5, "lineHeight": 6, "lineBreak": "\n", "color": "#3a3a3a", "align": "center", "baseline": "middle"},
              "encoding": {
                "x": {"field": "bxc", "type": "quantitative", "scale": {"domain": [0, 23.21], "nice": false, "zero": false},
                  "axis": {"orient": "bottom", "values": [0,1,2,3,4,5,6,7,8,9,10,11,12,13,14,15,16,17,18,19,20,21,22,23], "grid": false, "labels": false, "domain": false, "title": null}},
                "y": {"field": "ly", "type": "quantitative", "title": null, "scale": {"domain": [-0.154, 3.106], "nice": false, "zero": false}},
                "text": {"field": "label"}
              }
            }
          ]
        },
        {
          "data": {"name": "scalebars"},
          "transform": [
            {"filter": "datum.ear === 'L'"},
            {"calculate": "datum.t - 0.35", "as": "tk"},
            {"calculate": "datum.t + 0.45", "as": "tx"},
            {"calculate": "(datum.lo + datum.hi) / 2", "as": "ym"}
          ],
          "layer": [
            {
              "mark": {"type": "rule", "color": "#555", "strokeWidth": 0.8},
              "encoding": {
                "x": {"field": "t", "type": "quantitative", "axis": null, "scale": {"domain": [0, 23.21], "nice": false, "zero": false}},
                "y": {"field": "lo", "type": "quantitative", "title": null, "scale": {"domain": [-0.154, 3.106], "nice": false, "zero": false}},
                "y2": {"field": "hi"}
              }
            },
            {
              "mark": {"type": "rule", "color": "#555", "strokeWidth": 0.8},
              "encoding": {
                "x": {"field": "tk", "type": "quantitative", "axis": null, "scale": {"domain": [0, 23.21], "nice": false, "zero": false}},
                "x2": {"field": "t"},
                "y": {"field": "hi", "type": "quantitative", "title": null, "scale": {"domain": [-0.154, 3.106], "nice": false, "zero": false}}
              }
            },
            {
              "mark": {"type": "rule", "color": "#555", "strokeWidth": 0.8},
              "encoding": {
                "x": {"field": "tk", "type": "quantitative", "axis": null, "scale": {"domain": [0, 23.21], "nice": false, "zero": false}},
                "x2": {"field": "t"},
                "y": {"field": "lo", "type": "quantitative", "title": null, "scale": {"domain": [-0.154, 3.106], "nice": false, "zero": false}}
              }
            },
            {
              "mark": {"type": "text", "fontSize": 5, "color": "#444", "align": "left", "baseline": "middle", "clip": true},
              "encoding": {
                "x": {"field": "tx", "type": "quantitative", "axis": null, "scale": {"domain": [0, 23.21], "nice": false, "zero": false}},
                "y": {"field": "ym", "type": "quantitative", "title": null, "scale": {"domain": [-0.154, 3.106], "nice": false, "zero": false}},
                "text": {"field": "label"}
              }
            }
          ]
        }
      ]
    }
  ]
}
